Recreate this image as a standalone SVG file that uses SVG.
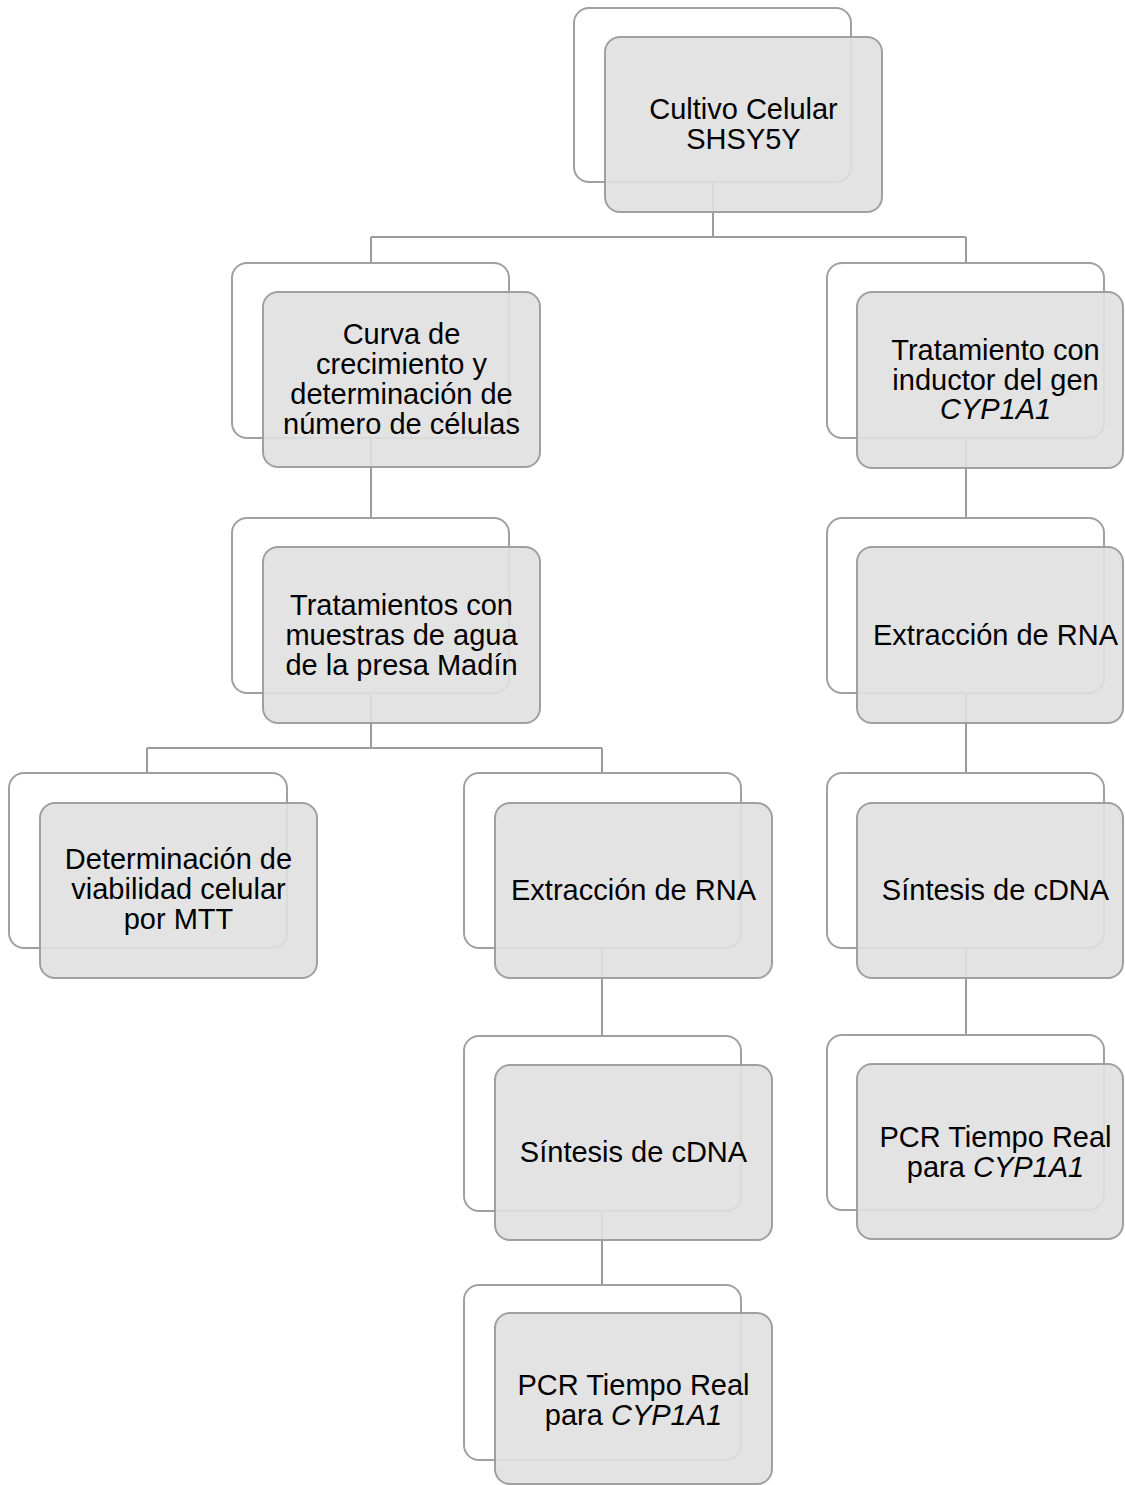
<svg xmlns="http://www.w3.org/2000/svg" width="1125" height="1485" viewBox="0 0 1125 1485">
<style>
.bk{fill:#ffffff;stroke:#a0a0a0;stroke-width:2}
.fr{fill:#e0e0e0;fill-opacity:0.9;stroke:#a0a0a0;stroke-width:2}
.t{font-family:"Liberation Sans",Arial,sans-serif;font-size:29px;fill:#000;text-anchor:middle}
.i{font-style:italic}
.c{fill:none;stroke:#9c9c9c;stroke-width:2}
</style>
<rect width="1125" height="1485" fill="#ffffff"/>
<g id="connectors">
<path class="c" d="M713 182V237M371 237H966M371 237V263M966 237V263"/>
<path class="c" d="M371 438V518M371 693V748M147 748H602M147 748V773M602 748V773"/>
<path class="c" d="M602 948V1036M602 1211V1285"/>
<path class="c" d="M966 438V518M966 693V773M966 948V1035"/>
</g>
<g id="n1">
<rect class="bk" x="574" y="8" width="277" height="174" rx="15"/>
<rect class="fr" x="605" y="37" width="277" height="175" rx="15"/>
<text class="t" x="743.5" y="119">Cultivo Celular</text>
<text class="t" x="743.5" y="149">SHSY5Y</text>
</g>
<g id="n2">
<rect class="bk" x="232" y="263" width="277" height="175" rx="15"/>
<rect class="fr" x="263" y="292" width="277" height="175" rx="15"/>
<text class="t" x="401.5" y="343.5">Curva de</text>
<text class="t" x="401.5" y="373.5">crecimiento y</text>
<text class="t" x="401.5" y="403.5">determinación de</text>
<text class="t" x="401.5" y="433.5">número de células</text>
</g>
<g id="n3">
<rect class="bk" x="232" y="518" width="277" height="175" rx="15"/>
<rect class="fr" x="263" y="547" width="277" height="176" rx="15"/>
<text class="t" x="401.5" y="614.5">Tratamientos con</text>
<text class="t" x="401.5" y="644.5">muestras de agua</text>
<text class="t" x="401.5" y="674.5">de la presa Madín</text>
</g>
<g id="n4">
<rect class="bk" x="9" y="773" width="278" height="175" rx="15"/>
<rect class="fr" x="40" y="803" width="277" height="175" rx="15"/>
<text class="t" x="178.5" y="868.5">Determinación de</text>
<text class="t" x="178.5" y="898.5">viabilidad celular</text>
<text class="t" x="178.5" y="928.5">por MTT</text>
</g>
<g id="n5">
<rect class="bk" x="464" y="773" width="277" height="175" rx="15"/>
<rect class="fr" x="495" y="803" width="277" height="175" rx="15"/>
<text class="t" x="633.5" y="900">Extracción de RNA</text>
</g>
<g id="n6">
<rect class="bk" x="464" y="1036" width="277" height="175" rx="15"/>
<rect class="fr" x="495" y="1065" width="277" height="175" rx="15"/>
<text class="t" x="633.5" y="1162">Síntesis de cDNA</text>
</g>
<g id="n7">
<rect class="bk" x="464" y="1285" width="277" height="175" rx="15"/>
<rect class="fr" x="495" y="1313" width="277" height="171" rx="15"/>
<text class="t" x="633.5" y="1395">PCR Tiempo Real</text>
<text class="t" x="633.5" y="1425">para <tspan class="i">CYP1A1</tspan></text>
</g>
<g id="n8">
<rect class="bk" x="827" y="263" width="277" height="175" rx="15"/>
<rect class="fr" x="857" y="292" width="266" height="176" rx="15"/>
<text class="t" x="995.5" y="360">Tratamiento con</text>
<text class="t" x="995.5" y="390">inductor del gen</text>
<text class="t i" x="995.5" y="419">CYP1A1</text>
</g>
<g id="n9">
<rect class="bk" x="827" y="518" width="277" height="175" rx="15"/>
<rect class="fr" x="857" y="547" width="266" height="176" rx="15"/>
<text class="t" x="995.5" y="645">Extracción de RNA</text>
</g>
<g id="n10">
<rect class="bk" x="827" y="773" width="277" height="175" rx="15"/>
<rect class="fr" x="857" y="803" width="266" height="175" rx="15"/>
<text class="t" x="995.5" y="900">Síntesis de cDNA</text>
</g>
<g id="n11">
<rect class="bk" x="827" y="1035" width="277" height="175" rx="15"/>
<rect class="fr" x="857" y="1064" width="266" height="175" rx="15"/>
<text class="t" x="995.5" y="1146.5">PCR Tiempo Real</text>
<text class="t" x="995.5" y="1176.5">para <tspan class="i">CYP1A1</tspan></text>
</g>
</svg>
